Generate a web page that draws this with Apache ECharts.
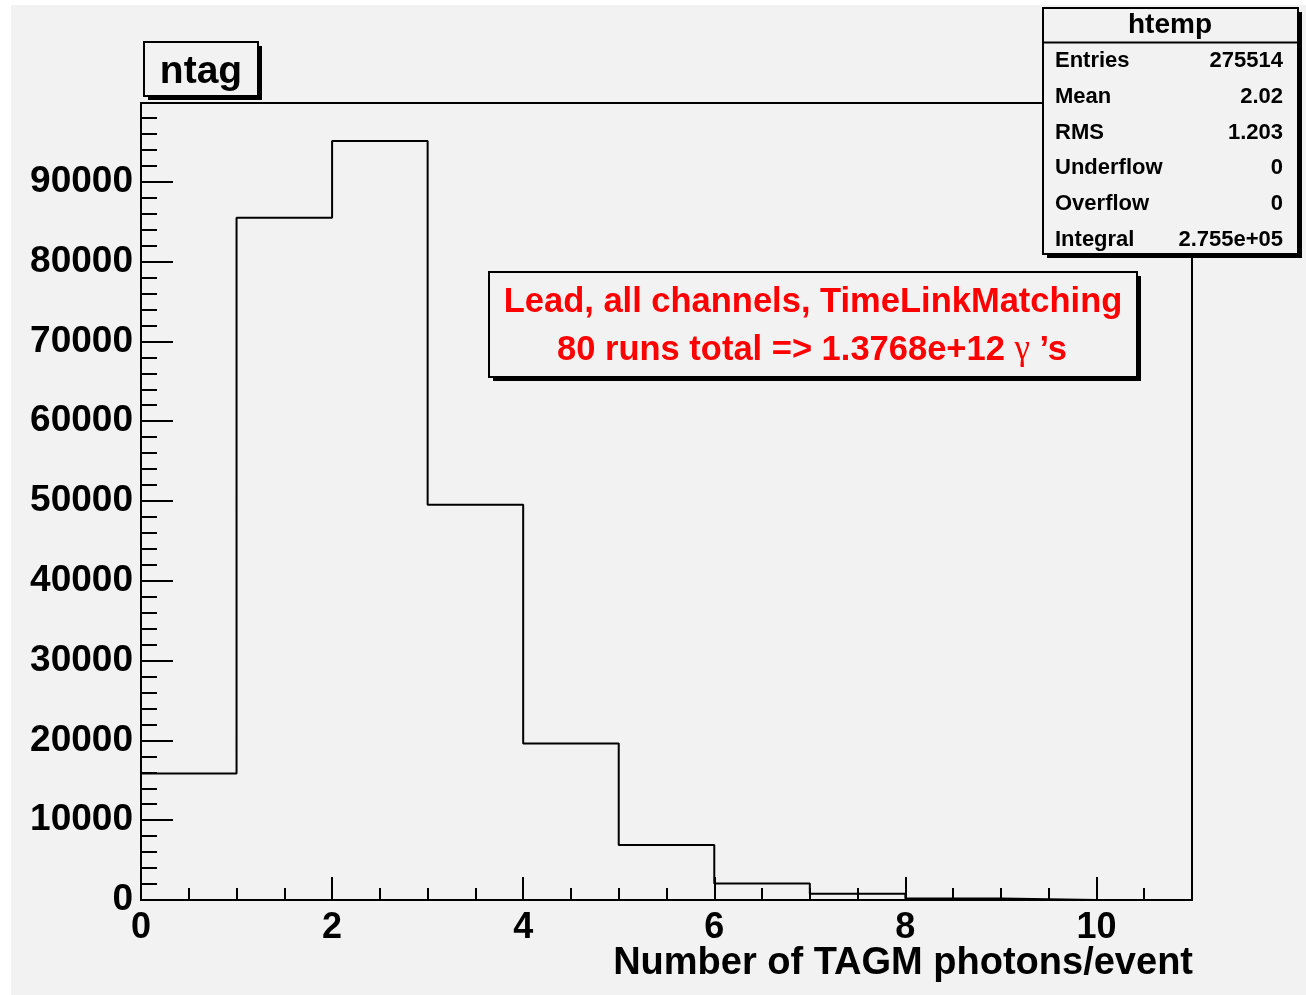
<!DOCTYPE html>
<html>
<head>
<meta charset="utf-8">
<script src="https://cdn.jsdelivr.net/npm/echarts@6/dist/echarts.min.js"></script>
<style>
html,body{margin:0;padding:0;background:#ffffff;}
#chart{width:1306px;height:995px;}
</style>
</head>
<body>
<div id="chart"></div>
<script>
// ---- data ----
const binLowEdges = [0, 1, 2, 3, 4, 5, 6, 7, 8, 9, 10];
const binWidth = 1;
const binCounts = [15850, 85500, 95100, 49520, 19620, 6880, 2080, 780, 184, 0, 0];
const xTickLabels = ['0', '2', '4', '6', '8', '10'];
const yTickLabels = ['0', '10000', '20000', '30000', '40000', '50000', '60000', '70000', '80000', '90000'];
const histTitle = 'ntag';
const xAxisTitle = 'Number of TAGM photons/event';
const statsTitle = 'htemp';
const statsNames = ['Entries', 'Mean', 'RMS', 'Underflow', 'Overflow', 'Integral'];
const statsValues = ['275514', '2.02', '1.203', '0', '0', '2.755e+05'];
const noteLine1 = 'Lead, all channels, TimeLinkMatching';
const noteLine2a = '80 runs total => 1.3768e+12 ';
const noteGamma = 'γ';
const noteLine2b = ' ’s';

// ---- build histogram outline from bins ----
const outline = [[binLowEdges[0], 0]];
binLowEdges.forEach((lo, i) => {
  outline.push([lo, binCounts[i]]);
  outline.push([lo + binWidth, binCounts[i]]);
});
outline.push([binLowEdges[binLowEdges.length - 1] + binWidth, 0]);

const FONT = "'Liberation Sans', Arial, Helvetica, sans-serif";
const BG = '#f2f2f2';
const xMax = 11, yMax = 99870;

const chart = echarts.init(document.getElementById('chart'), null, {renderer: 'canvas'});

const statsGraphics = [];
const rowY = [61, 97, 132.5, 168, 204, 239.5];
statsNames.forEach((n, i) => {
  statsGraphics.push({type: 'text', x: 1055, y: rowY[i], z: 12,
    style: {text: n, font: 'bold 22px ' + FONT, fill: '#000', textAlign: 'left', textVerticalAlign: 'middle'}});
  statsGraphics.push({type: 'text', x: 1283, y: rowY[i], z: 12,
    style: {text: statsValues[i], font: 'bold 22px ' + FONT, fill: '#000', textAlign: 'right', textVerticalAlign: 'middle'}});
});

const option = {
  backgroundColor: '#ffffff',
  animation: false,
  grid: {left: 141, right: 114, top: 103, bottom: 95, show: true, backgroundColor: BG,
    borderColor: '#000', borderWidth: 2, containLabel: false, outerBoundsMode: 'none'},
  xAxis: [
    {type: 'value', min: 0, max: xMax, interval: 2, position: 'bottom',
      axisLine: {show: true, onZero: false, lineStyle: {color: '#000', width: 2}},
      axisTick: {show: true, inside: true, length: 23, lineStyle: {color: '#000', width: 2}},
      splitLine: {show: false},
      axisLabel: {show: true, margin: 10, color: '#000', fontSize: 36, fontWeight: 'bold', fontFamily: FONT,
        formatter: v => xTickLabels.includes(String(v)) ? String(v) : ''}},
    {type: 'value', min: 0, max: xMax, interval: 0.5, position: 'bottom',
      axisLine: {show: false},
      axisTick: {show: true, inside: true, length: 12, lineStyle: {color: '#000', width: 2}},
      splitLine: {show: false}, axisLabel: {show: false}}
  ],
  yAxis: [
    {type: 'value', min: 0, max: yMax, interval: 10000, position: 'left',
      axisLine: {show: true, onZero: false, lineStyle: {color: '#000', width: 2}},
      axisTick: {show: true, inside: true, length: 32, lineStyle: {color: '#000', width: 2}},
      splitLine: {show: false},
      axisLabel: {show: true, margin: 8, color: '#000', fontSize: 37, fontWeight: 'bold', fontFamily: FONT,
        formatter: v => yTickLabels.includes(String(v)) ? String(v) : ''}},
    {type: 'value', min: 0, max: yMax, interval: 2000, position: 'left',
      axisLine: {show: false},
      axisTick: {show: true, inside: true, length: 16, lineStyle: {color: '#000', width: 2}},
      splitLine: {show: false}, axisLabel: {show: false}}
  ],
  series: [{
    name: histTitle, type: 'line', xAxisIndex: 0, yAxisIndex: 0,
    data: outline, symbol: 'none', clip: true,
    lineStyle: {color: '#000', width: 2}, z: 5
  }],
  graphic: [
    {type: 'rect', shape: {x: 11, y: 5, width: 1295, height: 990}, style: {fill: BG}, z: -100, silent: true},
    // x axis title
    {type: 'text', x: 1193, y: 964, z: 12,
      style: {text: xAxisTitle, font: 'bold 38px ' + FONT, fill: '#000', textAlign: 'right', textVerticalAlign: 'middle'}},
    // title box
    {type: 'rect', shape: {x: 148, y: 46, width: 114, height: 54}, style: {fill: '#000'}, z: 10},
    {type: 'rect', shape: {x: 144, y: 42, width: 114, height: 54}, style: {fill: BG, stroke: '#000', lineWidth: 2}, z: 11},
    {type: 'text', x: 201, y: 72, z: 12,
      style: {text: histTitle, font: 'bold 39px ' + FONT, fill: '#000', textAlign: 'center', textVerticalAlign: 'middle'}},
    // stats box
    {type: 'rect', shape: {x: 1047, y: 12, width: 255, height: 246}, style: {fill: '#000'}, z: 10},
    {type: 'rect', shape: {x: 1043, y: 8, width: 255, height: 246}, style: {fill: BG, stroke: '#000', lineWidth: 2}, z: 11},
    {type: 'line', shape: {x1: 1043, y1: 42.5, x2: 1298, y2: 42.5}, style: {stroke: '#000', lineWidth: 2}, z: 12},
    {type: 'text', x: 1170, y: 25, z: 12,
      style: {text: statsTitle, font: 'bold 28px ' + FONT, fill: '#000', textAlign: 'center', textVerticalAlign: 'middle'}},
    ...statsGraphics,
    // note box
    {type: 'rect', shape: {x: 493, y: 276, width: 648, height: 105}, style: {fill: '#000'}, z: 10},
    {type: 'rect', shape: {x: 489, y: 272, width: 648, height: 105}, style: {fill: BG, stroke: '#000', lineWidth: 2}, z: 11},
    {type: 'text', x: 813, y: 302, z: 12,
      style: {text: noteLine1, font: 'bold 34.5px ' + FONT, fill: '#ff0000', textAlign: 'center', textVerticalAlign: 'middle'}},
    {type: 'text', x: 812, y: 350, z: 12,
      style: {text: '{a|' + noteLine2a + '}{g|' + noteGamma + '}{a|' + noteLine2b + '}',
        textAlign: 'center', textVerticalAlign: 'middle',
        rich: {
          a: {font: 'bold 34.5px ' + FONT, fill: '#ff0000', color: '#ff0000'},
          g: {font: "normal 35px 'Liberation Serif', 'DejaVu Serif', serif", fill: '#ff0000', color: '#ff0000'}
        }}}
  ]
};
chart.setOption(option);
</script>
</body>
</html>
